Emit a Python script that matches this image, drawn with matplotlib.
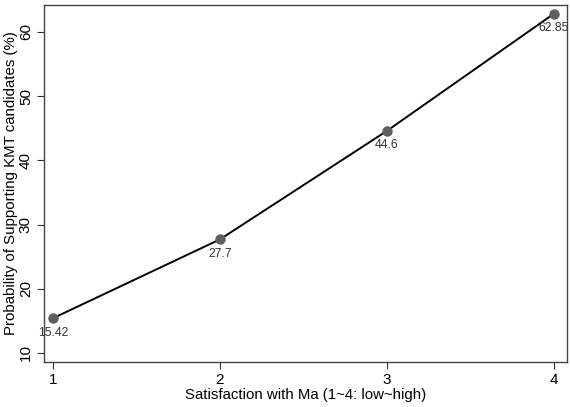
import matplotlib
matplotlib.use("Agg")
import matplotlib.pyplot as plt

plt.rcParams["font.family"] = ["Liberation Sans", "DejaVu Sans"]

satisfaction = [1, 2, 3, 4]
probability = [15.42, 27.7, 44.6, 62.85]
point_labels = ["15.42", "27.7", "44.6", "62.85"]

fig = plt.figure(figsize=(5.7, 4.07), dpi=100)
ax = fig.add_axes([0.0772, 0.1106, 0.9175, 0.8771])

ax.plot(satisfaction, probability, color="black", lw=1.4, zorder=2)
ax.plot(satisfaction, probability, "o", color="#5f5f5f", ms=6.5, zorder=3)
for x, y, lab in zip(satisfaction, probability, point_labels):
    ax.annotate(lab, (x, y), xytext=(0, -6), textcoords="offset points",
                ha="center", va="top", fontsize=8.8, color="#333333")

ax.set_xlim(0.946, 4.078)
ax.set_ylim(8.6, 64.2)
ax.set_xticks([1, 2, 3, 4])
ax.set_yticks([10, 20, 30, 40, 50, 60])
ax.tick_params(axis="both", labelsize=11, length=5, color="#333333", pad=3)
for lab in ax.get_yticklabels():
    lab.set_rotation(90)
    lab.set_va("center")
ax.set_xlabel("Satisfaction with Ma (1~4: low~high)", fontsize=10.8, labelpad=1)
ax.set_ylabel("Probability of Supporting KMT candidates (%)", fontsize=10.8, labelpad=1)
for sp in ax.spines.values():
    sp.set_color("#444444")
    sp.set_linewidth(1.0)

fig.savefig("out.png", dpi=100)
